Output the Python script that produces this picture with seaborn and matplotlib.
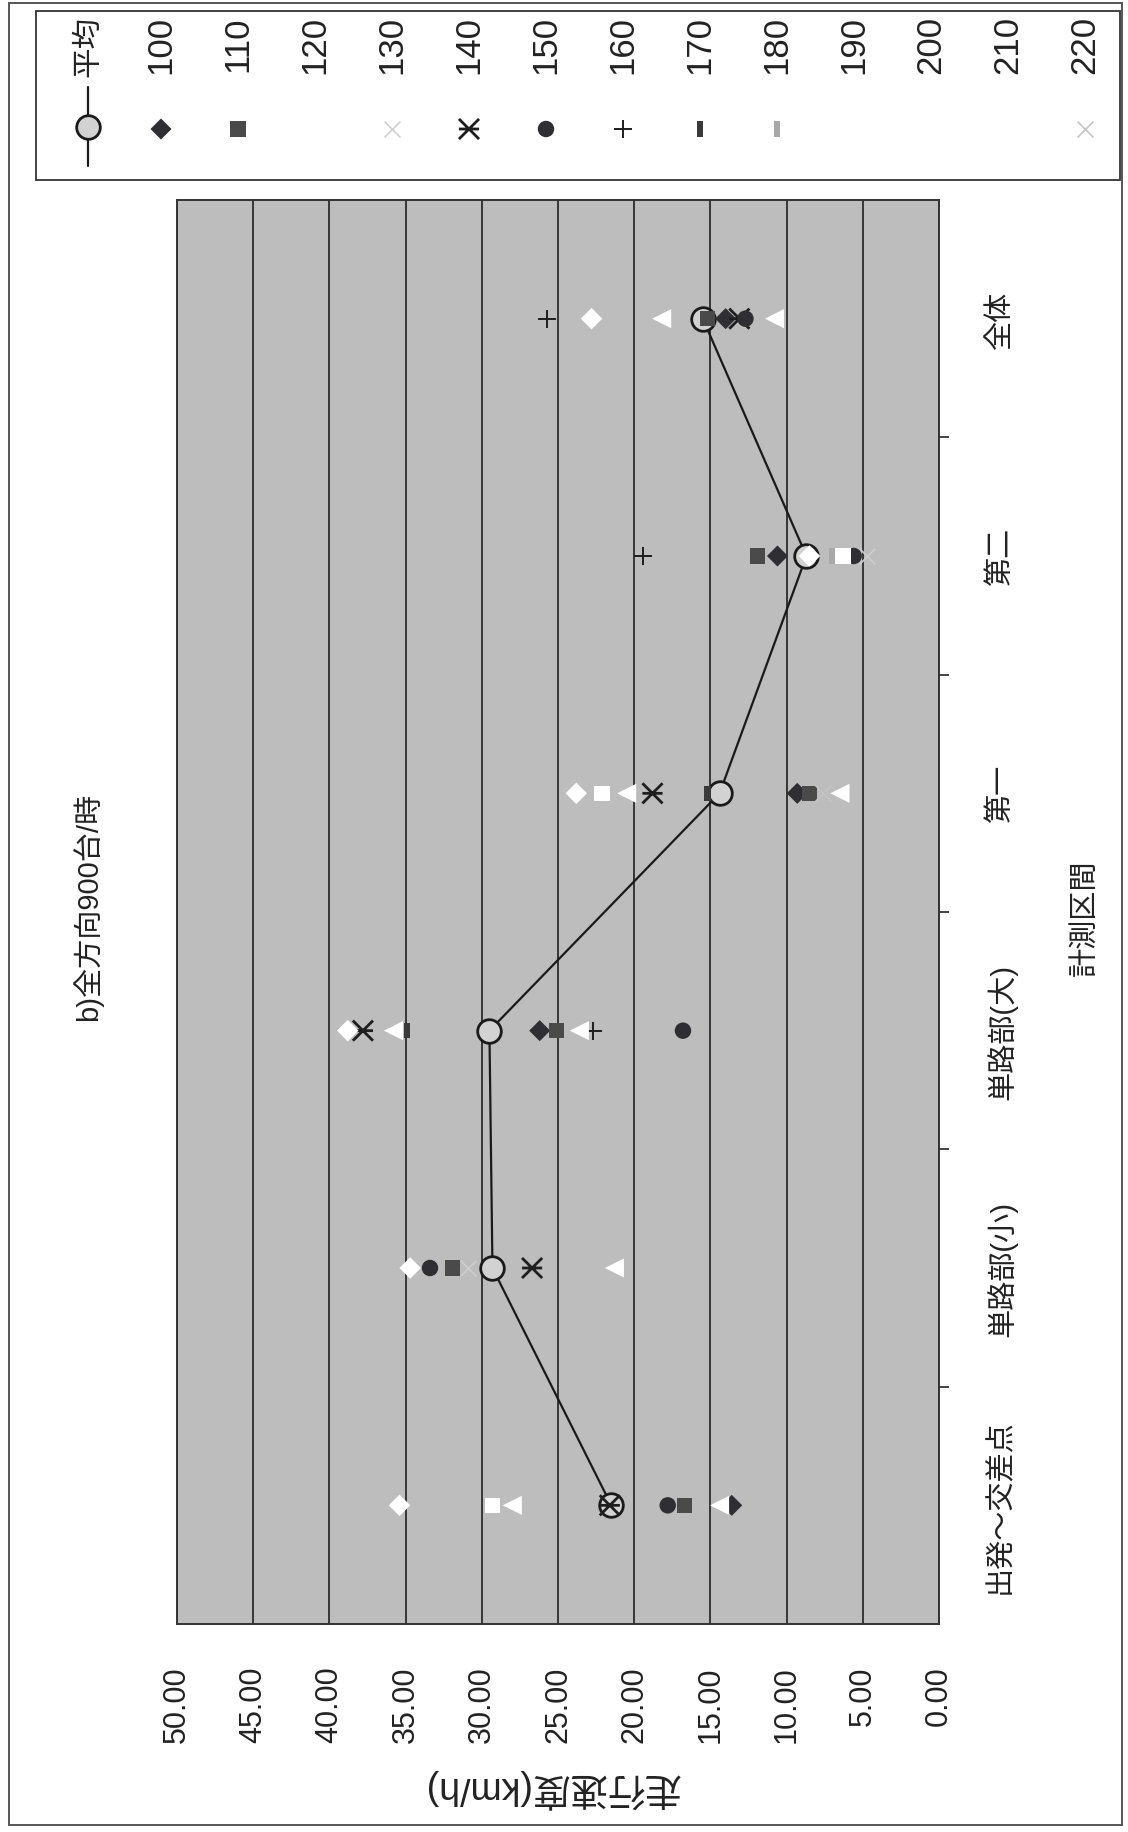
import numpy as np
import matplotlib
matplotlib.use("Agg")
import matplotlib.pyplot as plt
from matplotlib.path import Path
from matplotlib.patches import Rectangle
import seaborn as sns

# ---- data -------------------------------------------------------------
title = "b)全方向900台/時"
categories = ["出発～交差点", "単路部(小)", "単路部(大)", "第一", "第二", "全体"]
x_title = "計測区間"
y_title = "走行速度(km/h)"
speed_ticks = [0, 5, 10, 15, 20, 25, 30, 35, 40, 45, 50]

average_label = "平均"
average = [21.5, 29.3, 29.5, 14.4, 8.7, 15.5]

series_names = ["100", "110", "120", "130", "140", "150", "160",
                "170", "180", "190", "200", "210", "220"]
nan = np.nan
s100 = [13.6, nan, 26.2, 9.3, 10.6, 14.0]
s110 = [16.7, 31.9, 25.1, 8.5, 11.9, 15.2]
s120 = [28.0, 21.3, 35.8, 20.5, nan, 18.2]
s130 = [nan, 30.9, nan, nan, 4.7, nan]
s140 = [21.6, 26.7, 37.8, 18.8, nan, 13.1]
s150 = [17.8, 33.4, 16.8, nan, 5.6, 12.7]
s160 = [nan, nan, 22.7, nan, 19.4, 25.7]
s170 = [nan, nan, 34.9, 15.2, nan, nan]
s180 = [nan, nan, nan, nan, 7.0, nan]
s190 = [35.4, 34.7, 38.8, 23.8, 8.5, 22.8]
s200 = [29.3, nan, nan, 22.1, 6.3, nan]
s210 = [14.4, nan, 23.6, 6.5, nan, 10.8]
s220 = [nan, nan, nan, 7.6, nan, nan]
series_values = [s100, s110, s120, s130, s140, s150, s160,
                 s170, s180, s190, s200, s210, s220]

# ---- marker styles (drawn turned a quarter turn) -------------------------
DARK = "#2e2e33"
star = Path([(-0.5, -0.5), (0.5, 0.5), (-0.5, 0.5), (0.5, -0.5), (-0.5, 0.0), (0.5, 0.0)],
            [Path.MOVETO, Path.LINETO, Path.MOVETO, Path.LINETO, Path.MOVETO, Path.LINETO])
bar = [(-0.22, -0.5), (0.22, -0.5), (0.22, 0.5), (-0.22, 0.5), (-0.22, -0.5)]

styles = [
    dict(marker="D", s=115, color=DARK),            # 100
    dict(marker="s", s=120, color="#4a4a4a"),       # 110
    dict(marker="<", s=190, color="white"),         # 120
    dict(marker="x", s=130, color="#cfcfcf", lw=1.2),  # 130
    dict(marker=star, s=210, color="#1e1e1e", lw=2.0, line=True),  # 140
    dict(marker="o", s=140, color=DARK),            # 150
    dict(marker="+", s=180, color="#1e1e1e", lw=1.4),  # 160
    dict(marker=bar, s=120, color="#3a3a3a"),       # 170
    dict(marker=bar, s=120, color="#a8a8a8"),       # 180
    dict(marker="D", s=120, color="white"),         # 190
    dict(marker="s", s=125, color="white"),         # 200
    dict(marker="<", s=190, color="white"),         # 210
    dict(marker="x", s=130, color="#c4c4c4", lw=1.2),  # 220
]

W, H = 1128, 1833
fig = plt.figure(figsize=(W / 100, H / 100), dpi=100)
sns.set_style("white")
plt.rcParams["font.family"] = ["Liberation Sans", "Noto Sans CJK JP", "DejaVu Sans"]

ax = fig.add_axes([177 / W, 1 - 1625 / H, (939 - 177) / W, (1625 - 201) / H])
ax.set_facecolor("#bdbdbd")

pos = np.arange(len(categories))


def draw_points(target, xs, ys, st, zorder=3):
    kw = dict(marker=st["marker"], s=st["s"], color=st["color"], zorder=zorder)
    if st.get("line"):
        kw.update(facecolor="none", edgecolor=st["color"], linewidth=st["lw"])
    elif "lw" in st:
        kw.update(linewidth=st["lw"])
    else:
        kw.update(edgecolor="none", linewidth=0)
    sns.scatterplot(x=xs, y=ys, ax=target, legend=False, **kw)


# average line first, the other series on top of it
sns.lineplot(x=average, y=pos, orient="y", sort=False, estimator=None, ax=ax,
             color="#1a1a1a", lw=1.6, marker="o", markersize=17,
             markerfacecolor="#d2d2d2", markeredgecolor="#1a1a1a",
             markeredgewidth=2.0, zorder=2, legend=False)

for vals, st in zip(series_values, styles):
    v = np.asarray(vals, dtype=float)
    keep = ~np.isnan(v)
    draw_points(ax, v[keep], pos[keep], st)

# value axis (runs right to left)
ax.set_xlim(50, 0)
ax.set_xticks(speed_ticks)
ax.set_xticklabels([f"{t:.2f}" for t in speed_ticks], rotation=90, fontsize=22,
                   color="#222222")
ax.tick_params(axis="x", length=0, pad=30)
ax.grid(axis="x", color="#111111", lw=1.1)
ax.grid(axis="y", visible=False)

# category axis on the right
ax.set_ylim(-0.5, len(categories) - 0.5)
ax.yaxis.tick_right()
ax.set_yticks(pos)
ax.set_yticklabels(categories, rotation=90, fontsize=21, color="#222222",
                   va="center")
ax.set_yticks(pos[:-1] + 0.5, minor=True)
ax.tick_params(axis="y", which="major", length=0, pad=34)
ax.tick_params(axis="y", which="minor", length=7, width=1.2, color="#222222",
               direction="out", right=True, left=False)
ax.set_xlabel("")
ax.set_ylabel("")
for sp in ax.spines.values():
    sp.set_color("#333333")
    sp.set_linewidth(1.4)

# titles
fig.text(88 / W, 1 - 907 / H, title, rotation=90, ha="center", va="center",
         fontsize=21, color="#222222")
fig.text(1085 / W, 1 - 918 / H, x_title, rotation=90, ha="center", va="center",
         fontsize=21, color="#222222")
fig.text(552 / W, 1 - 1789 / H, y_title, rotation=180, ha="center", va="center",
         fontsize=27, color="#222222")

# ---- overlay: chart frame and legend -----------------------------------
ov = fig.add_axes([0, 0, 1, 1], zorder=5)
ov.set_xlim(0, W)
ov.set_ylim(H, 0)
ov.axis("off")
ov.patch.set_alpha(0)
ov.add_patch(Rectangle((9, 4), 1113, 1822, fill=False, ec="#555555", lw=1.4))
ov.add_patch(Rectangle((36, 12), 1084, 169, fill=False, ec="#333333", lw=1.3))

# legend entry for the average line
ov.plot([88, 88], [88, 167], color="#1a1a1a", lw=1.6)
ov.plot([88], [128], marker="o", markersize=17, markerfacecolor="#d2d2d2",
        markeredgecolor="#1a1a1a", markeredgewidth=2.0)
ov.text(88, 16, average_label, rotation=90, ha="center", va="top", fontsize=22,
        color="#222222")

for i, (name, st) in enumerate(zip(series_names, styles)):
    lx = 161 + 77 * i
    ov.text(lx, 16, name, rotation=90, ha="center", va="top", fontsize=25,
            color="#222222")
    draw_points(ov, [lx], [130], st, zorder=6)

fig.savefig("out.png", dpi=100, facecolor="white")
